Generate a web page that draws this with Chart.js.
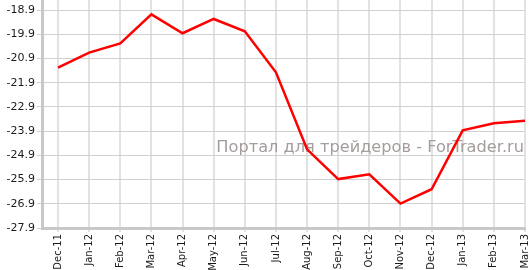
<!DOCTYPE html>
<html>
<head>
<meta charset="utf-8">
<script src="https://cdn.jsdelivr.net/npm/chart.js@4/dist/chart.umd.min.js"></script>
<style>
    html, body { margin: 0; padding: 0; background: #fff; }
    #wrap { width: 531px; height: 270px; }
</style>
</head>
<body>
<div id="wrap"><canvas id="chart"></canvas></div>
<script>
var months = ['Dec-11', 'Jan-12', 'Feb-12', 'Mar-12', 'Apr-12', 'May-12', 'Jun-12', 'Jul-12',
    'Aug-12', 'Sep-12', 'Oct-12', 'Nov-12', 'Dec-12', 'Jan-13', 'Feb-13', 'Mar-13'];
var values = [-21.28, -20.66, -20.28, -19.08, -19.86, -19.27, -19.78, -21.47,
    -24.65, -25.88, -25.68, -26.89, -26.30, -23.87, -23.58, -23.47];
var yTicks = [-18.9, -19.9, -20.9, -21.9, -22.9, -23.9, -24.9, -25.9, -26.9, -27.9];
var watermark = 'Портал для трейдеров - ForTrader.ru';

var points = values.map(function (v, i) { return { x: i, y: v }; });

var watermarkPlugin = {
    id: 'watermark',
    beforeDatasetsDraw: function (chart) {
        var ctx = chart.ctx;
        ctx.save();
        ctx.font = '16.2px "DejaVu Sans"';
        ctx.fillStyle = '#a59c9c';
        ctx.textAlign = 'right';
        ctx.textBaseline = 'alphabetic';
        ctx.fillText(watermark, 524, 152);
        ctx.restore();
    }
};

var ctx = document.getElementById('chart').getContext('2d');
var myChart = new Chart(ctx, {
    type: 'line',
    data: {
        datasets: [{
            data: points,
            borderColor: '#ff0000',
            borderWidth: 2.5,
            pointRadius: 0,
            tension: 0,
            fill: false,
            clip: false
        }]
    },
    options: {
        responsive: true,
        maintainAspectRatio: false,
        animation: false,
        events: [],
        layout: { padding: { left: 0, right: 6, top: 0, bottom: 0 } },
        plugins: { legend: { display: false }, tooltip: { enabled: false } },
        scales: {
            x: {
                type: 'linear',
                min: -0.514,
                max: 15,
                afterBuildTicks: function (scale) {
                    scale.ticks = months.map(function (m, i) { return { value: i }; });
                },
                afterFit: function (scale) {
                    scale.height = 42;
                    scale.paddingLeft = 0;
                    scale.paddingRight = 0;
                },
                ticks: {
                    autoSkip: false,
                    minRotation: 90,
                    maxRotation: 90,
                    padding: 2,
                    color: '#1a1a1a',
                    font: { family: 'DejaVu Sans', size: 10 },
                    callback: function (value) { return months[value]; }
                },
                grid: { color: '#e2e2e2', lineWidth: 2, tickLength: 4 },
                border: { color: '#c8c8c8', width: 3 }
            },
            y: {
                min: -27.9,
                max: -18.487,
                afterBuildTicks: function (scale) {
                    scale.ticks = yTicks.map(function (v) { return { value: v }; });
                },
                afterFit: function (scale) {
                    scale.width = 42;
                    scale.paddingTop = 0;
                    scale.paddingBottom = 0;
                },
                ticks: {
                    padding: 2,
                    color: '#1a1a1a',
                    font: { family: 'DejaVu Sans', size: 11 },
                    callback: function (value) { return value.toFixed(1); }
                },
                grid: { color: '#d0d0d0', lineWidth: 1, tickLength: 5 },
                border: { color: '#c8c8c8', width: 3 }
            }
        }
    },
    plugins: [watermarkPlugin]
});
</script>
</body>
</html>
